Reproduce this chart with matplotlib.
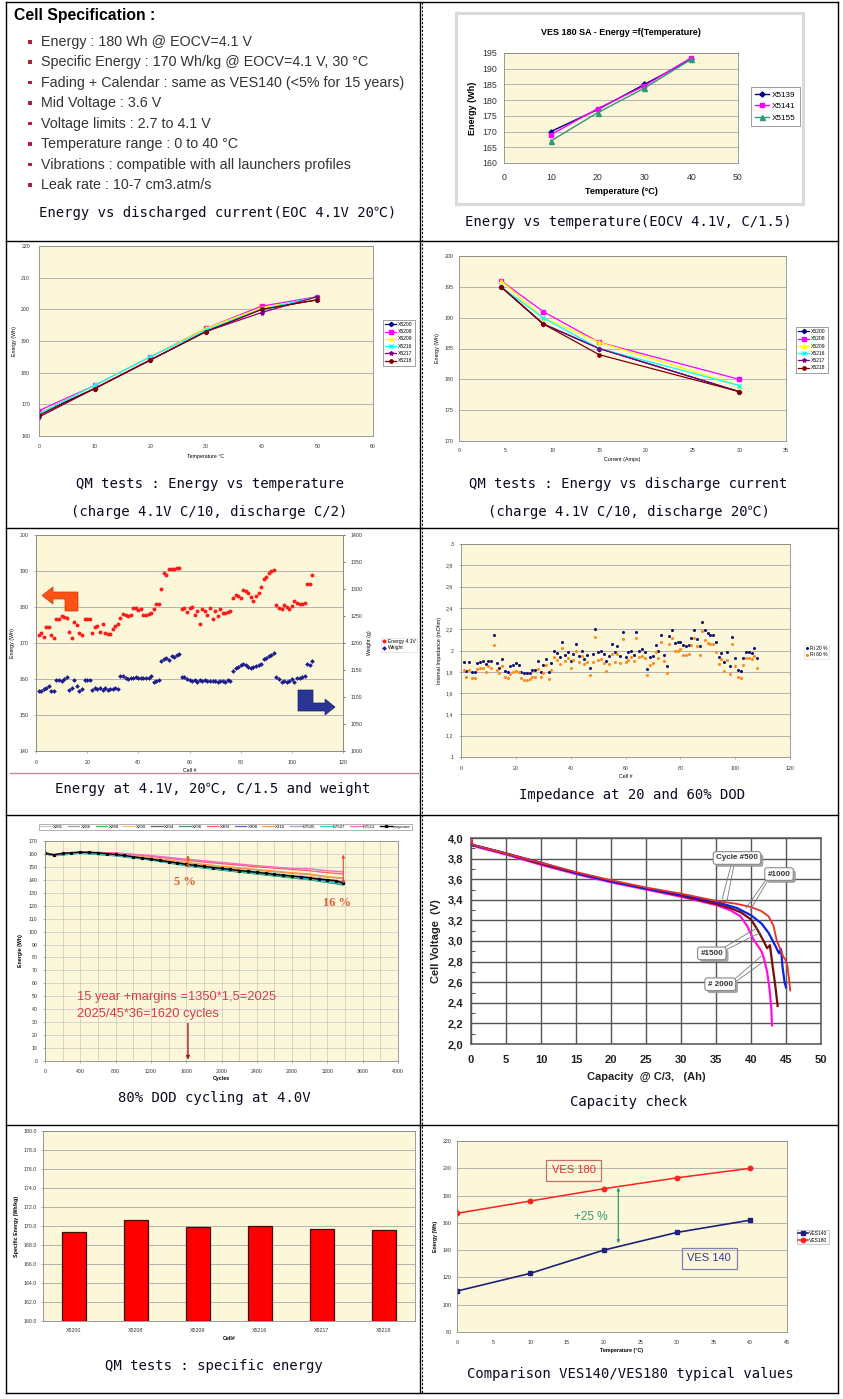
import matplotlib
matplotlib.use('Agg')
import matplotlib.pyplot as plt
import matplotlib.patheffects as pe
from matplotlib.patches import Polygon, Rectangle
from matplotlib.lines import Line2D
from matplotlib.ticker import FuncFormatter, MultipleLocator
import numpy as np

plt.rcParams['font.family'] = ['Liberation Sans', 'DejaVu Sans']

# ---------------------------------------------------------------- DATA
spec_title = "Cell Specification :"
spec_items = [
    "Energy : 180 Wh @ EOCV=4.1 V",
    "Specific Energy : 170 Wh/kg @ EOCV=4.1 V, 30 \u00b0C",
    "Fading + Calendar : same as VES140 (<5% for 15 years)",
    "Mid Voltage : 3.6 V",
    "Voltage limits : 2.7 to 4.1 V",
    "Temperature range : 0 to 40 \u00b0C",
    "Vibrations : compatible with all launchers profiles",
    "Leak rate : 10-7 cm3.atm/s",
]
captions = [
    "Energy vs discharged current(EOC 4.1V 20\u2103)",
    "Energy vs temperature(EOCV 4.1V, C/1.5)",
    "QM tests : Energy vs temperature\n(charge 4.1V C/10, discharge C/2)",
    "QM tests : Energy vs discharge current\n(charge 4.1V C/10, discharge 20\u2103)",
    "Energy at 4.1V, 20\u2103, C/1.5 and weight",
    "Impedance at 20 and 60% DOD",
    "80% DOD cycling at 4.0V",
    "Capacity check",
    "QM tests : specific energy",
    "Comparison VES140/VES180 typical values",
]

# cell 2 : VES 180 SA energy vs temperature
sa_temp = [10, 20, 30, 40]
sa_x5139 = [170, 177, 185, 193]
sa_x5141 = [169, 177.3, 184.5, 193.5]
sa_x5155 = [167, 176, 183.8, 193]

# cell 3 : QM energy vs temperature
qm_names = ["X5200", "X5208", "X5209", "X5216", "X5217", "X5218"]
qt_temp = [0, 10, 20, 30, 40, 50]
qt_x5200 = [167, 175, 184, 193, 200, 203]
qt_x5208 = [168, 176, 185, 194, 201, 204]
qt_x5209 = [167, 176, 185, 194, 200.5, 203.5]
qt_x5216 = [167, 176, 185, 193.5, 200, 204]
qt_x5217 = [166, 175, 184, 193, 199, 204]
qt_x5218 = [166.5, 175, 184, 193, 200, 203]

# cell 4 : QM energy vs discharge current
qc_current = [4.5, 9, 15, 30]
qc_x5200 = [195, 189, 185, 178]
qc_x5208 = [196, 191, 186, 180]
qc_x5209 = [196, 190, 186, 179]
qc_x5216 = [195, 190, 185, 179]
qc_x5217 = [195, 189, 185, 178]
qc_x5218 = [195, 189, 184, 178]

# cell 5 : energy and weight per cell
cell_no = list(range(1, 109))
energy_41v = [172.2, 172.9, 171.8, 174.4, 174.4, 172.2, 171.5, 176.6, 176.6, 177.4,
              177.3, 177.0, 173.1, 171.5, 175.9, 174.9, 172.7, 172.2, 176.6, 176.8,
              176.6, 172.8, 174.4, 174.7, 173.1, 175.2, 172.8, 172.4, 172.5, 173.8,
              174.7, 175.4, 177.0, 178.1, 177.9, 177.4, 177.8, 179.6, 179.8, 179.1,
              179.4, 177.8, 177.7, 178.1, 178.3, 179.4, 180.9, 180.9, 184.9, 189.5,
              188.9, 190.5, 190.6, 190.6, 190.7, 190.9, 179.4, 179.8, 178.7, 179.8,
              180.0, 177.9, 178.9, 175.2, 179.4, 178.9, 177.9, 179.8, 176.8, 178.9,
              177.5, 179.4, 178.4, 178.4, 178.7, 178.9, 182.4, 183.3, 183.1, 182.6,
              184.6, 184.4, 184.0, 182.8, 181.7, 183.1, 184.0, 185.6, 187.7, 188.3,
              189.5, 190.0, 190.2, 180.6, 179.8, 179.4, 180.6, 180.0, 179.4, 180.3,
              181.7, 181.2, 180.9, 180.9, 181.2, 186.5, 186.5, 188.8]
weight_g = [1112, 1112, 1114, 1117, 1120, 1111, 1111, 1131, 1131, 1130,
            1133, 1137, 1113, 1116, 1132, 1120, 1111, 1114, 1131, 1131,
            1131, 1113, 1116, 1114, 1117, 1113, 1116, 1113, 1115, 1115,
            1116, 1114, 1139, 1139, 1136, 1134, 1135, 1136, 1137, 1135,
            1136, 1135, 1136, 1136, 1138, 1127, 1130, 1131, 1167, 1170,
            1173, 1168, 1176, 1174, 1177, 1180, 1137, 1137, 1134, 1131,
            1130, 1131, 1128, 1131, 1130, 1131, 1130, 1130, 1130, 1130,
            1128, 1130, 1130, 1128, 1131, 1130, 1149, 1153, 1156, 1159,
            1162, 1159, 1156, 1154, 1156, 1157, 1160, 1162, 1170, 1173,
            1176, 1178, 1182, 1137, 1133, 1127, 1130, 1127, 1130, 1133,
            1127, 1136, 1136, 1137, 1139, 1162, 1160, 1167]

# cell 6 : internal impedance
ri_20 = [1.89, 1.81, 1.89, 1.80, 1.80, 1.88, 1.89, 1.90, 1.87, 1.90,
         1.90, 2.15, 1.88, 1.84, 1.92, 1.81, 1.80, 1.85, 1.86, 1.88,
         1.86, 1.80, 1.79, 1.79, 1.79, 1.82, 1.82, 1.90, 1.80, 1.86,
         1.92, 1.80, 1.88, 2.00, 1.98, 1.94, 2.08, 1.96, 1.99, 1.90,
         1.97, 2.06, 1.95, 2.00, 1.92, 1.96, 1.84, 1.97, 2.20, 1.99,
         2.00, 1.97, 1.90, 1.95, 2.06, 1.99, 2.04, 1.95, 2.17, 1.94,
         1.99, 2.00, 1.96, 2.17, 2.00, 2.01, 1.99, 1.83, 1.94, 1.95,
         2.05, 2.00, 2.15, 1.96, 1.85, 2.14, 2.19, 2.07, 2.08, 2.08,
         2.05, 2.04, 2.05, 2.12, 2.19, 2.11, 2.04, 2.27, 2.19, 2.16,
         2.15, 2.15, 2.08, 1.94, 1.98, 1.89, 1.99, 1.85, 2.13, 1.93,
         1.82, 1.81, 1.93, 1.99, 1.99, 1.98, 2.02, 1.93]
ri_60 = [1.82, 1.75, 1.82, 1.74, 1.74, 1.83, 1.84, 1.84, 1.80, 1.85,
         1.84, 2.05, 1.82, 1.79, 1.85, 1.75, 1.74, 1.78, 1.80, 1.81,
         1.80, 1.74, 1.72, 1.72, 1.73, 1.75, 1.75, 1.83, 1.75, 1.79,
         1.86, 1.73, 1.82, 1.94, 1.91, 1.87, 2.02, 1.90, 1.93, 1.84,
         1.91, 2.00, 1.89, 1.95, 1.87, 1.89, 1.77, 1.89, 2.13, 1.91,
         1.92, 1.88, 1.81, 1.87, 1.97, 1.89, 1.97, 1.88, 2.11, 1.89,
         1.91, 1.94, 1.90, 2.12, 1.94, 1.95, 1.93, 1.77, 1.86, 1.88,
         1.99, 1.93, 2.08, 1.90, 1.79, 2.06, 2.12, 2.00, 2.00, 2.01,
         1.96, 1.96, 1.97, 2.05, 2.12, 2.04, 1.96, 2.18, 2.10, 2.07,
         2.06, 2.06, 1.99, 1.87, 1.92, 1.81, 1.91, 1.78, 2.06, 1.85,
         1.75, 1.74, 1.86, 1.93, 1.93, 1.92, 1.95, 1.84]

# cell 7 : 80% DOD cycling
cyc_pts = [0, 100, 400, 800, 1200, 1600, 2000, 2400, 2800, 3000, 3200, 3380]
cyc_names = ["X281", "X286", "X288", "X290", "X294", "X296", "X300", "X308",
             "X310", "E7505", "E7507", "E7512"]
cyc_x281 = [161, 159.5, 161.5, 160.5, 158.5, 155.5, 153, 150.5, 148.5, 148.5, 147, 146.5]
cyc_x286 = [160.5, 159, 161, 159.5, 157, 153, 150, 147.5, 145, 144, 142, 141]
cyc_x288 = [160, 158.8, 160.8, 158.8, 155.5, 151, 147.5, 144.5, 141.5, 140, 138, 136.5]
cyc_x290 = [160.5, 159, 161, 159.5, 156.5, 152.5, 149.5, 146.5, 143.5, 142.5, 140.5, 139]
cyc_x294 = [160.5, 159, 161, 159.2, 156, 152, 148.8, 146, 143, 141.5, 139.5, 138]
cyc_x296 = [160, 158.5, 160.5, 158.5, 155.2, 150.8, 147.5, 144.5, 141.5, 140, 138, 136]
cyc_x300 = [161, 159.5, 161.5, 160.8, 158.2, 155, 152.5, 150, 148, 147, 145.5, 144.5]
cyc_x308 = [160.3, 158.8, 160.8, 159, 155.8, 151.5, 148.3, 145.5, 142.5, 141, 139, 137.5]
cyc_x310 = [160.5, 159.2, 161.2, 159.8, 157, 153.5, 150.5, 148, 145.5, 144.5, 142.5, 141.5]
cyc_e7505 = [160.5, 159, 161, 159.3, 156.3, 152.3, 149, 146.2, 143.2, 142, 140, 138.5]
cyc_e7507 = [160.2, 158.7, 160.7, 158.8, 155.5, 151.2, 147.8, 145, 142, 140.5, 138.5, 137]
cyc_e7512 = [161, 159.6, 161.6, 160.8, 158.8, 156, 153.5, 151, 148.8, 148.5, 147, 146]
moy_cycles = [0, 100, 200, 300, 400, 500, 600, 700, 800, 900, 1000, 1100, 1200,
              1300, 1400, 1500, 1600, 1700, 1800, 1900, 2000, 2100, 2200, 2300,
              2400, 2500, 2600, 2700, 2800, 2900, 3000, 3100, 3200, 3300, 3380]
moyenne = [160.5, 159.3, 160.5, 161, 161.3, 161.2, 160.8, 160.2, 159.6, 158.8,
           157.8, 156.8, 156.0, 155.0, 154.0, 153.0, 152.0, 151.2, 150.3, 149.5,
           148.8, 148.0, 147.2, 146.5, 145.8, 145.0, 144.2, 143.5, 142.8, 142.3,
           141.5, 140.5, 140.0, 139.3, 137.5]

# cell 8 : capacity check discharge curves
cap_500 = [0, 0.2, 1, 5, 10, 15, 20, 25, 30, 35, 38, 40, 41.5, 42.5, 43.2, 43.7,
           44.2, 44.6, 44.9, 45.2, 45.4, 45.6]
volt_500 = [4.0, 3.94, 3.92, 3.85, 3.76, 3.67, 3.59, 3.52, 3.46, 3.39, 3.36, 3.33,
            3.29, 3.24, 3.15, 3.0, 2.92, 2.85, 2.82, 2.76, 2.65, 2.52]
cap_1000 = [0, 0.2, 1, 5, 10, 15, 20, 25, 30, 35, 38, 40, 41.5, 42.5, 43.5, 44.0,
            44.3, 44.5, 44.8, 45.0]
volt_1000 = [3.99, 3.93, 3.92, 3.85, 3.76, 3.66, 3.58, 3.51, 3.45, 3.38, 3.32, 3.25,
             3.17, 3.08, 2.95, 2.88, 2.92, 2.75, 2.6, 2.55]
cap_1500 = [0, 0.2, 1, 5, 10, 15, 20, 25, 30, 35, 37, 38.5, 40, 41, 41.8, 42.3,
            42.7, 43.1, 43.5, 43.8]
volt_1500 = [3.99, 3.93, 3.92, 3.85, 3.75, 3.66, 3.58, 3.51, 3.44, 3.36, 3.32, 3.28,
             3.21, 3.1, 3.0, 2.93, 2.96, 2.75, 2.55, 2.37]
cap_2000 = [0, 0.2, 1, 5, 10, 15, 20, 25, 30, 35, 37, 38.5, 39.5, 40.3, 41, 41.5,
            41.9, 42.3, 42.6, 42.9, 43.0]
volt_2000 = [3.98, 3.93, 3.91, 3.84, 3.74, 3.65, 3.57, 3.5, 3.43, 3.35, 3.3, 3.24,
             3.14, 3.02, 2.95, 2.9, 2.82, 2.7, 2.56, 2.35, 2.18]

# cell 9 : specific energy
se_cells = ["X5200", "X5208", "X5209", "X5216", "X5217", "X5218"]
se_values = [169.4, 170.6, 169.9, 170.0, 169.7, 169.6]

# cell 10 : comparison
cmp_temp = [0, 10, 20, 30, 40]
ves140 = [110, 123, 140, 153, 162]
ves180 = [167, 176, 185, 193, 200]

# ---------------------------------------------------------------- FIGURE
W, H = 843, 1399
fig = plt.figure(figsize=(W / 100, H / 100), dpi=100)
fig.patch.set_facecolor('white')

PLOT_BG = '#fcf7d9'
GRID = '#a8a8a8'
CAPFONT = ['DejaVu Sans Mono', 'Noto Sans CJK KR']
SERIES6 = [('#000080', 'D', 2.2), ('#ff00ff', 's', 2.4), ('#ffff00', '^', 2.6),
           ('#00ffff', 'x', 2.6), ('#800080', '*', 3.0), ('#800000', 'o', 2.4)]


def fxy(x, y):
    return (x / W, 1 - y / H)


def add_ax(x0, y0, x1, y1):
    return fig.add_axes([x0 / W, 1 - y1 / H, (x1 - x0) / W, (y1 - y0) / H])


def hline(y, x0, x1, **kw):
    fig.add_artist(Line2D([x0 / W, x1 / W], [1 - y / H, 1 - y / H],
                          transform=fig.transFigure, **kw))


def vline(x, y0, y1, **kw):
    fig.add_artist(Line2D([x / W, x / W], [1 - y0 / H, 1 - y1 / H],
                          transform=fig.transFigure, **kw))


def caption(x, y, s):
    fig.text(x / W, 1 - y / H, s, family=CAPFONT, fontsize=10, color='#0a0a22',
             ha='center', va='center', linespacing=1.75)


def excel(ax, fs=3.8, xpad=5, ypad=4, grid=True):
    ax.set_facecolor(PLOT_BG)
    for s in ax.spines.values():
        s.set_color('#8a8a8a')
        s.set_linewidth(0.6)
    if grid:
        ax.grid(axis='y', color=GRID, lw=0.6)
    ax.set_axisbelow(True)
    ax.tick_params(labelsize=fs, length=1.5, width=0.4, color='#777777',
                   labelcolor='#333333')
    ax.tick_params(axis='x', pad=xpad)
    ax.tick_params(axis='y', pad=ypad)


def comma(dec):
    return FuncFormatter(lambda v, p: (f'{v:.{dec}f}').replace('.', ','))


def small_legend(ax, x0, y0, fs=3.6, hl=2.2, **kw):
    lg = ax.legend(loc='upper left', bbox_to_anchor=fxy(x0, y0),
                   bbox_transform=fig.transFigure, fontsize=fs, frameon=True,
                   fancybox=False, edgecolor='#555555', borderpad=0.5,
                   handlelength=hl, handletextpad=0.4, labelspacing=0.45, **kw)
    lg.get_frame().set_linewidth(0.5)
    return lg


# ---------------------------------------------------------------- TABLE
LK = dict(color='black', lw=1.0)
hline(2, 6, 838, **LK)
for yy in (241, 528, 815, 1125):
    hline(yy, 6, 838, **LK)
hline(1393, 6, 838, **LK)
vline(6, 2, 1393, **LK)
vline(837.5, 2, 1393, **LK)
vline(419.5, 2, 1393, **LK)
vline(422, 2, 1393, color='black', lw=0.8, ls=(0, (2, 1.5)))

# ---------------------------------------------------------------- CELL 1
fig.text(14 / W, 1 - 15.5 / H, spec_title, fontsize=11.3, fontweight='bold',
         color='black', ha='left', va='center')
for i, item in enumerate(spec_items):
    yy = 42 + i * 20.45
    fig.text(40.7 / W, 1 - yy / H, item, fontsize=10.3, color='#333333',
             ha='left', va='center')
    fig.add_artist(Rectangle(fxy(28.3, yy + 1.5), 3.6 / W, 3.6 / H,
                             transform=fig.transFigure, color='#b0203c', lw=0))
caption(218, 213, captions[0])

# ---------------------------------------------------------------- CELL 2
fig.add_artist(Rectangle(fxy(456, 204), 347 / W, 191 / H, transform=fig.transFigure,
                         fill=False, edgecolor='#dadada', lw=2.2))
ax = add_ax(504, 53, 738, 163)
excel(ax, fs=6.3, xpad=7, ypad=5)
ax.plot(sa_temp, sa_x5139, color='#000080', marker='D', ms=2.6, lw=1, label='X5139')
ax.plot(sa_temp, sa_x5141, color='#ff00ff', marker='s', ms=3, lw=1, label='X5141')
ax.plot(sa_temp, sa_x5155, color='#2e9a78', marker='^', ms=3.6, lw=1, label='X5155')
ax.set_xlim(0, 50)
ax.set_ylim(160, 195)
ax.set_xticks(range(0, 51, 10))
ax.set_yticks(range(160, 196, 5))
ax.tick_params(length=0)
ax.set_title('VES 180 SA - Energy =f(Temperature)', fontsize=6.5, fontweight='bold',
             pad=13)
ax.set_xlabel('Temperature (\u00b0C)', fontsize=6.5, fontweight='bold', labelpad=4)
ax.set_ylabel('Energy (Wh)', fontsize=6.5, fontweight='bold', labelpad=4)
small_legend(ax, 751, 87, fs=5.9, hl=1.7, borderaxespad=0)
caption(628.5, 222, captions[1])

# ---------------------------------------------------------------- CELL 3
ax = add_ax(39, 246, 373, 436)
excel(ax, fs=3.8, xpad=6, ypad=6.5)
for nm, ys, (c, m, ms) in zip(qm_names,
                              [qt_x5200, qt_x5208, qt_x5209, qt_x5216, qt_x5217, qt_x5218],
                              SERIES6):
    ax.plot(qt_temp, ys, color=c, marker=m, ms=ms, lw=0.9, label=nm)
ax.set_xlim(0, 60)
ax.set_ylim(160, 220)
ax.set_xticks(range(0, 61, 10))
ax.set_yticks(range(160, 221, 10))
ax.tick_params(length=0)
ax.set_xlabel('Temperature \u00b0C', fontsize=3.8, labelpad=3.5)
ax.set_ylabel('Energy (Wh)', fontsize=3.8, labelpad=3)
small_legend(ax, 380, 317, fs=3.6)
caption(209.5, 484, captions[2].split('\n')[0])
caption(209, 512, captions[2].split('\n')[1])

# ---------------------------------------------------------------- CELL 4
ax = add_ax(459, 256, 786, 441)
excel(ax, fs=3.8, xpad=5, ypad=4)
for nm, ys, (c, m, ms) in zip(qm_names,
                              [qc_x5200, qc_x5208, qc_x5209, qc_x5216, qc_x5217, qc_x5218],
                              SERIES6):
    ax.plot(qc_current, ys, color=c, marker=m, ms=ms, lw=0.9, label=nm)
ax.set_xlim(0, 35)
ax.set_ylim(170, 200)
ax.set_xticks(range(0, 36, 5))
ax.set_yticks(range(170, 201, 5))
ax.tick_params(length=0)
ax.set_xlabel('Current (Amps)', fontsize=3.8, labelpad=3)
ax.set_ylabel('Energy (Wh)', fontsize=3.8, labelpad=3)
small_legend(ax, 793, 324, fs=3.6)
caption(628.5, 484, captions[3].split('\n')[0])
caption(628.5, 512, captions[3].split('\n')[1])

# ---------------------------------------------------------------- CELL 5
ax = add_ax(36, 535, 343, 751)
excel(ax, fs=3.8, xpad=5, ypad=4)
ax.plot(cell_no, energy_41v, ls='none', marker='o', ms=2.8, color='#ff1a1a',
        mec='none', label='Energy 4.1V')
ax.set_xlim(0, 120)
ax.set_ylim(140, 200)
ax.set_xticks(range(0, 121, 20))
ax.set_yticks(range(140, 201, 10))
ax.set_xlabel('Cell #', fontsize=3.8, labelpad=2)
ax.set_ylabel('Energy (Wh)', fontsize=3.8, labelpad=3)
ax2 = ax.twinx()
ax2.set_facecolor('none')
for s in ax2.spines.values():
    s.set_color('#8a8a8a')
    s.set_linewidth(0.6)
ax2.plot(cell_no, weight_g, ls='none', marker='D', ms=2.4, color='#1c1c8c',
         mec='none', label='Weight')
ax2.set_ylim(1000, 1400)
ax2.set_yticks(range(1000, 1401, 50))
ax2.tick_params(labelsize=3.8, length=1.5, width=0.4, pad=4, labelcolor='#333333')
ax2.set_ylabel('Weight (g)', fontsize=3.8, labelpad=3)
h1, l1 = ax.get_legend_handles_labels()
h2, l2 = ax2.get_legend_handles_labels()
lg = ax2.legend(h1 + h2, l1 + l2, loc='upper left', bbox_to_anchor=fxy(378, 635),
                bbox_transform=fig.transFigure, fontsize=3.6, frameon=True,
                fancybox=False, edgecolor='#cccccc', borderpad=0.3,
                handlelength=0.8, handletextpad=0.4, labelspacing=0.3)
lg.get_frame().set_linewidth(0.4)
arrow_left = [(42, 595.5), (53, 587), (53, 592), (78, 592), (78, 611), (65, 611),
              (65, 599), (53, 599), (53, 604)]
fig.add_artist(Polygon([fxy(*p) for p in arrow_left], closed=True,
                       transform=fig.transFigure, fc='#ff5016', ec='#c03a10', lw=0.5))
arrow_right = [(298, 690), (313, 690), (313, 703), (325, 703), (325, 699), (335, 707),
               (325, 715), (325, 711), (298, 711)]
fig.add_artist(Polygon([fxy(*p) for p in arrow_right], closed=True,
                       transform=fig.transFigure, fc='#2a3596', ec='#1a2070', lw=0.5))
hline(773, 10, 418, color='#c48a98', lw=1.0)
caption(213, 789, captions[4])

# ---------------------------------------------------------------- CELL 6
ax = add_ax(461, 544, 790, 757)
excel(ax, fs=3.8, xpad=5, ypad=4)
ax.plot(cell_no, ri_20, ls='none', marker='o', ms=2.2, color='#101070', mec='none',
        label='Ri 20 %')
ax.plot(cell_no, ri_60, ls='none', marker='o', ms=2.2, color='#ff8a1e', mec='none',
        label='Ri 60 %')
ax.set_xlim(0, 120)
ax.set_ylim(1, 3)
ax.set_xticks(range(0, 121, 20))
ax.set_yticks(np.arange(1, 3.01, 0.2))
ax.yaxis.set_major_formatter(FuncFormatter(
    lambda v, p: ('%g' % round(v, 1)).replace('.', ',')))
ax.set_xlabel('Cell #', fontsize=3.8, labelpad=2)
ax.set_ylabel('Internal Impedance (mOhm)', fontsize=3.8, labelpad=3)
lg = ax.legend(loc='upper left', bbox_to_anchor=fxy(801, 642),
               bbox_transform=fig.transFigure, fontsize=3.6, frameon=True,
               fancybox=False, edgecolor='#cccccc', borderpad=0.3,
               handlelength=0.6, handletextpad=0.4, labelspacing=0.3)
lg.get_frame().set_linewidth(0.4)
caption(632, 795, captions[5])

# ---------------------------------------------------------------- CELL 7
ax = add_ax(45, 841, 398, 1061)
excel(ax, fs=3.8, xpad=4, ypad=4, grid=False)
ax.grid(True, color='#c8c8c8', lw=0.5)
ax.xaxis.set_minor_locator(MultipleLocator(200))
ax.grid(True, which='minor', axis='x', color='#c8c8c8', lw=0.5)
cyc_colors = ['#c8c8c8', '#a0a0a0', '#33cc33', '#f2c070', '#606060', '#339980',
              '#ff6060', '#6464cc', '#ff9a33', '#9aa0c0', '#33cccc', '#ff66cc']
cyc_series = [cyc_x281, cyc_x286, cyc_x288, cyc_x290, cyc_x294, cyc_x296, cyc_x300,
              cyc_x308, cyc_x310, cyc_e7505, cyc_e7507, cyc_e7512]
handles = []
for nm, ys, c in zip(cyc_names, cyc_series, cyc_colors):
    h, = ax.plot(cyc_pts, ys, color=c, lw=0.9, label=nm)
    handles.append(h)
h, = ax.plot(moy_cycles, moyenne, color='black', lw=1.0, marker='s', ms=1.3,
             label='moyenne')
handles.append(h)
ax.set_xlim(0, 4000)
ax.set_ylim(0, 170)
ax.set_xticks(range(0, 4001, 400))
ax.set_yticks(range(0, 171, 10))
ax.tick_params(which='minor', length=0)
ax.set_xlabel('Cycles', fontsize=3.8, labelpad=2, fontweight='bold')
ax.set_ylabel('Energie (Wh)', fontsize=3.8, labelpad=4, fontweight='bold')
lg = fig.legend(handles, [hh.get_label() for hh in handles], loc='lower left',
                bbox_to_anchor=(39 / W, 1 - 830 / H, 373 / W, 10 / H), mode='expand',
                ncol=13, fontsize=3.2, frameon=True, fancybox=False,
                edgecolor='#777777', borderpad=0.25, handlelength=2.6,
                handletextpad=0.3, columnspacing=0.2, borderaxespad=0)
lg.get_frame().set_linewidth(0.5)
ax.annotate('', xy=(1620, 159), xytext=(1620, 149),
            arrowprops=dict(arrowstyle='<|-|>', color='#e05030', lw=0.8,
                            mutation_scale=4, shrinkA=0, shrinkB=0))
ax.annotate('', xy=(3380, 159.5), xytext=(3380, 137),
            arrowprops=dict(arrowstyle='<|-|>', color='#e05030', lw=0.8,
                            mutation_scale=4, shrinkA=0, shrinkB=0))
ax.text(1586, 138.3, '5 %', family='Liberation Serif', fontweight='bold',
        fontsize=9, color='#e06030', ha='center', va='center')
ax.text(3309, 122.1, '16 %', family='Liberation Serif', fontweight='bold',
        fontsize=9, color='#e06030', ha='center', va='center')
ax.text(363, 49.5, '15 year +margins =1350*1,5=2025', fontsize=9.3,
        color='#d63c4c', ha='left', va='center')
ax.text(363, 36.3, '2025/45*36=1620 cycles', fontsize=9.3,
        color='#d63c4c', ha='left', va='center')
ax.annotate('', xy=(1620, 1), xytext=(1620, 29),
            arrowprops=dict(arrowstyle='-|>', color='#a01828', lw=1.0,
                            mutation_scale=5, shrinkA=0, shrinkB=0))
caption(214, 1098, captions[6])

# ---------------------------------------------------------------- CELL 8
ax = add_ax(471, 838, 821, 1044)
ax.set_facecolor('white')
for s in ax.spines.values():
    s.set_color('#555555')
    s.set_linewidth(1.1)
ax.plot(cap_500, volt_500, color='#e8302a', lw=1.3, zorder=4)
ax.plot(cap_1000, volt_1000, color='#1020e0', lw=1.6, zorder=3)
ax.plot(cap_1500, volt_1500, color='#7a0a0a', lw=1.6, zorder=2)
ax.plot(cap_2000, volt_2000, color='#ff10e0', lw=1.6, zorder=1)
ax.set_xlim(0, 50)
ax.set_ylim(2.0, 4.0)
ax.set_xticks(range(0, 51, 5))
ax.set_yticks(np.arange(2.0, 4.01, 0.2))
ax.yaxis.set_minor_locator(MultipleLocator(0.1))
ax.yaxis.set_major_formatter(comma(1))
ax.grid(True, color='#555555', lw=1.0)
ax.set_axisbelow(True)
ax.tick_params(axis='both', which='major', length=0, labelsize=8, labelcolor='#222222')
ax.tick_params(axis='x', pad=8)
ax.tick_params(axis='y', pad=5.5)
ax.tick_params(axis='y', which='minor', direction='in', length=3, width=0.8,
               color='#555555')
for lbl in ax.get_xticklabels() + ax.get_yticklabels():
    lbl.set_fontweight('bold')
ax.set_xlabel('Capacity  @ C/3,   (Ah)', fontsize=8, fontweight='bold',
              color='#222222', labelpad=5)
ax.set_ylabel('Cell Voltage  (V)', fontsize=8, fontweight='bold', color='#222222',
              labelpad=5)
BOX = dict(boxstyle='round,pad=0.35,rounding_size=0.3', fc='white', ec='#8a8a8a',
           lw=0.8)
ann = [('Cycle #500', 38.0, 3.806, [((37.2, 3.75), (35.9, 3.41)),
                                    ((37.6, 3.75), (36.6, 3.40))]),
       ('#1000', 44.0, 3.65, [((42.2, 3.60), (39.3, 3.32)),
                              ((42.5, 3.60), (39.9, 3.30))]),
       ('#1500', 34.4, 2.88, [((36.0, 2.93), (40.9, 3.13)),
                              ((36.0, 2.90), (41.3, 3.08))]),
       ('# 2000', 35.6, 2.58, [((37.5, 2.62), (41.4, 2.85)),
                               ((37.5, 2.59), (41.8, 2.80))])]
for txt, tx, ty, segs in ann:
    for (a, b) in segs:
        ax.plot([a[0], b[0]], [a[1], b[1]], color='#777777', lw=0.6, zorder=5)
    t = ax.text(tx, ty, txt, fontsize=5.8, fontweight='bold', color='#333333',
                ha='center', va='center', zorder=6, bbox=BOX)
    t.get_bbox_patch().set_path_effects(
        [pe.withSimplePatchShadow(offset=(1.8, -1.8), shadow_rgbFace='#9a9a9a',
                                  alpha=0.9)])
caption(629, 1102, captions[7])

# ---------------------------------------------------------------- CELL 9
ax = add_ax(43, 1131, 415, 1321)
excel(ax, fs=3.8, xpad=5, ypad=3)
xpos = np.arange(len(se_cells))
ax.bar(xpos, [v - 160 for v in se_values], bottom=160, width=0.4, color='#ff0000',
       edgecolor='#3a1010', lw=0.9, zorder=3)
ax.set_xlim(-0.5, len(se_cells) - 0.5)
ax.set_ylim(160, 180)
ax.set_xticks(xpos)
ax.set_xticklabels(se_cells)
ax.set_yticks(range(160, 181, 2))
ax.yaxis.set_major_formatter(FuncFormatter(lambda v, p: f'{v:.1f}'))
ax.tick_params(axis='x', length=0)
ax.set_xlabel('Cell#', fontsize=3.8, fontweight='bold', labelpad=2)
ax.set_ylabel('Specific Energy (Wh/kg)', fontsize=3.8, fontweight='bold', labelpad=3)
caption(214, 1366, captions[8])

# ---------------------------------------------------------------- CELL 10
ax = add_ax(457, 1141, 787, 1332)
excel(ax, fs=3.8, xpad=6, ypad=4)
ax.plot(cmp_temp, ves140, color='#20207a', lw=1.2, marker='s', ms=3.5,
        label='VES140')
ax.plot(cmp_temp, ves180, color='#ff2020', lw=1.1, marker='o', ms=3.2,
        label='VES180')
ax.set_xlim(0, 45)
ax.set_ylim(80, 220)
ax.set_xticks(range(0, 46, 5))
ax.set_yticks(range(80, 221, 20))
ax.tick_params(length=0)
ax.set_xlabel('Temperature (\u00b0C)', fontsize=3.8, fontweight='bold', labelpad=2)
ax.set_ylabel('Energy (Wh)', fontsize=3.8, fontweight='bold', labelpad=3)
ax.text(15.9, 198.4, 'VES 180', fontsize=8, color='#e03030', ha='center', va='center',
        bbox=dict(boxstyle='square,pad=0.5', fc='none', ec='#c07070', lw=0.9))
ax.text(34.4, 133.9, 'VES 140', fontsize=8, color='#333399', ha='center',
        va='center', bbox=dict(boxstyle='square,pad=0.5', fc='none', ec='#8080b0',
                               lw=0.9))
ax.text(18.3, 164.3, '+25 %', fontsize=8.5, color='#339977', ha='center', va='center')
ax.annotate('', xy=(22, 186), xytext=(22, 145),
            arrowprops=dict(arrowstyle='<|-|>', color='#339977', lw=0.9,
                            mutation_scale=4, shrinkA=0, shrinkB=0))
lg = ax.legend(loc='upper left', bbox_to_anchor=fxy(794, 1227),
               bbox_transform=fig.transFigure, fontsize=3.6, frameon=True,
               fancybox=False, edgecolor='#888888', borderpad=0.3,
               handlelength=2.0, handletextpad=0.2, labelspacing=0.3)
lg.get_frame().set_linewidth(0.4)
caption(630, 1374, captions[9])

fig.savefig('out.png', dpi=100, facecolor='white')
